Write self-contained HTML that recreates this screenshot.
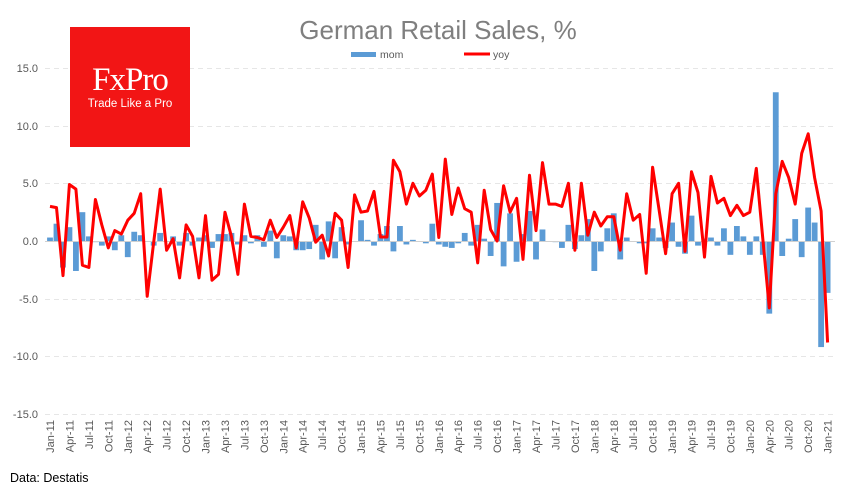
<!DOCTYPE html>
<html><head><meta charset="utf-8"><style>
body{margin:0;background:#fff;}
svg{display:block;font-family:"Liberation Sans",sans-serif;}
</style></head><body>
<svg id="s" width="858" height="497" viewBox="0 0 858 497">
<rect width="858" height="497" fill="#fff"/>
<g stroke="#e6e6e6" stroke-dasharray="5,4" stroke-width="1">
<line x1="45" x2="835" y1="68.5" y2="68.5"/><line x1="45" x2="835" y1="126.5" y2="126.5"/><line x1="45" x2="835" y1="183.5" y2="183.5"/><line x1="45" x2="835" y1="299.5" y2="299.5"/><line x1="45" x2="835" y1="356.5" y2="356.5"/><line x1="45" x2="835" y1="414.5" y2="414.5"/>
</g>
<g font-size="11" fill="#595959" text-anchor="end">
<text x="38" y="72">15.0</text><text x="38" y="130">10.0</text><text x="38" y="187">5.0</text><text x="38" y="245">0.0</text><text x="38" y="303">-5.0</text><text x="38" y="360">-10.0</text><text x="38" y="418">-15.0</text>
</g>
<g id="bars" fill="#5b9bd5"></g>
<line x1="45" x2="835" y1="241.5" y2="241.5" stroke="#d0d0d0" stroke-width="1"/>
<polyline id="yoy" fill="none" stroke="#ff0000" stroke-width="3" stroke-linejoin="round"/>
<g id="xl" font-size="11" fill="#595959" text-anchor="end">
<text transform="translate(54,420) rotate(-90)">Jan-11</text>
<text transform="translate(73.4,420) rotate(-90)">Apr-11</text>
<text transform="translate(92.9,420) rotate(-90)">Jul-11</text>
<text transform="translate(112.3,420) rotate(-90)">Oct-11</text>
<text transform="translate(131.8,420) rotate(-90)">Jan-12</text>
<text transform="translate(151.2,420) rotate(-90)">Apr-12</text>
<text transform="translate(170.6,420) rotate(-90)">Jul-12</text>
<text transform="translate(190.1,420) rotate(-90)">Oct-12</text>
<text transform="translate(209.5,420) rotate(-90)">Jan-13</text>
<text transform="translate(229,420) rotate(-90)">Apr-13</text>
<text transform="translate(248.4,420) rotate(-90)">Jul-13</text>
<text transform="translate(267.8,420) rotate(-90)">Oct-13</text>
<text transform="translate(287.3,420) rotate(-90)">Jan-14</text>
<text transform="translate(306.7,420) rotate(-90)">Apr-14</text>
<text transform="translate(326.2,420) rotate(-90)">Jul-14</text>
<text transform="translate(345.6,420) rotate(-90)">Oct-14</text>
<text transform="translate(365,420) rotate(-90)">Jan-15</text>
<text transform="translate(384.5,420) rotate(-90)">Apr-15</text>
<text transform="translate(403.9,420) rotate(-90)">Jul-15</text>
<text transform="translate(423.4,420) rotate(-90)">Oct-15</text>
<text transform="translate(442.8,420) rotate(-90)">Jan-16</text>
<text transform="translate(462.2,420) rotate(-90)">Apr-16</text>
<text transform="translate(481.7,420) rotate(-90)">Jul-16</text>
<text transform="translate(501.1,420) rotate(-90)">Oct-16</text>
<text transform="translate(520.6,420) rotate(-90)">Jan-17</text>
<text transform="translate(540,420) rotate(-90)">Apr-17</text>
<text transform="translate(559.4,420) rotate(-90)">Jul-17</text>
<text transform="translate(578.9,420) rotate(-90)">Oct-17</text>
<text transform="translate(598.3,420) rotate(-90)">Jan-18</text>
<text transform="translate(617.8,420) rotate(-90)">Apr-18</text>
<text transform="translate(637.2,420) rotate(-90)">Jul-18</text>
<text transform="translate(656.6,420) rotate(-90)">Oct-18</text>
<text transform="translate(676.1,420) rotate(-90)">Jan-19</text>
<text transform="translate(695.5,420) rotate(-90)">Apr-19</text>
<text transform="translate(715,420) rotate(-90)">Jul-19</text>
<text transform="translate(734.4,420) rotate(-90)">Oct-19</text>
<text transform="translate(753.8,420) rotate(-90)">Jan-20</text>
<text transform="translate(773.3,420) rotate(-90)">Apr-20</text>
<text transform="translate(792.7,420) rotate(-90)">Jul-20</text>
<text transform="translate(812.2,420) rotate(-90)">Oct-20</text>
<text transform="translate(831.6,420) rotate(-90)">Jan-21</text>
</g>
<text x="438" y="39" font-size="26" fill="#7f7f7f" text-anchor="middle" style="font-weight:300">German Retail Sales, %</text>
<rect x="351" y="52" width="25" height="5" fill="#5b9bd5"/>
<text x="380" y="58" font-size="10.5" fill="#595959">mom</text>
<line x1="464" x2="490" y1="54" y2="54" stroke="#ff0000" stroke-width="3"/>
<text x="493" y="58" font-size="10.5" fill="#595959">yoy</text>
<rect x="70" y="27" width="120" height="120" fill="#f21515"/>
<text x="130" y="90" font-family="Liberation Serif,serif" font-size="33" fill="#fff" text-anchor="middle" letter-spacing="-1">FxPro</text>
<text x="130" y="107" font-size="11.5" fill="#fff" text-anchor="middle">Trade Like a Pro</text>
<text x="10" y="482" font-size="12.5" fill="#000">Data: Destatis</text>
</svg>
<script>
var yoy=[3.0,2.9,-3.0,4.9,4.5,-2.1,-2.3,3.6,1.4,-0.6,0.9,0.6,1.8,2.4,4.1,-4.8,-0.1,4.5,-0.8,0.2,-3.2,1.4,0.4,-3.2,2.2,-3.4,-2.9,2.5,0.4,-2.9,3.2,0.4,0.3,0.1,1.8,0.3,1.2,2.2,-0.6,3.4,2.0,-0.1,0.5,-1.3,2.4,1.8,-2.3,4.0,2.5,2.6,4.3,0.35,0.35,7.0,6.0,3.2,5.0,3.9,4.4,5.8,0.3,7.1,2.3,4.6,2.8,2.5,-1.9,4.4,1.0,0.0,4.8,2.5,3.7,-1.6,5.7,0.9,6.8,3.2,3.2,3.0,5.0,-0.8,5.0,0.5,2.5,1.3,2.1,2.1,-0.8,4.1,1.8,2.3,-2.8,6.4,2.7,-1.1,4.1,5.0,-0.9,6.0,4.2,-1.4,5.6,3.3,3.7,2.2,3.1,2.2,2.5,6.3,0.2,-5.8,4.1,6.9,5.5,3.2,7.6,9.3,5.5,2.6,-8.8];
var mom=[0.3,1.5,-2.3,1.2,-2.6,2.5,0.4,-0.1,-0.4,0.4,-0.8,0.5,-1.4,0.8,0.5,0.0,-0.4,0.7,0.0,0.4,-0.4,0.7,-0.4,0.3,0.5,-0.6,0.6,0.6,0.7,-0.3,0.5,-0.2,0.5,-0.5,0.9,-1.5,0.5,0.4,-0.8,-0.8,-0.7,1.4,-1.6,1.7,-1.5,1.2,-0.3,0.0,1.8,0.1,-0.4,0.6,1.3,-0.9,1.3,-0.3,0.1,0.0,-0.2,1.5,-0.3,-0.5,-0.6,-0.2,0.7,-0.4,1.4,0.2,-1.3,3.3,-2.2,2.4,-1.8,0.6,2.6,-1.6,1.0,0.0,-0.1,-0.6,1.4,-0.7,0.5,1.9,-2.6,-0.9,1.1,2.4,-1.6,0.3,0.0,-0.2,-0.2,1.1,0.3,-0.6,1.6,-0.5,-1.1,2.2,-0.4,0.2,0.3,-0.4,1.1,-1.2,1.3,0.4,-1.2,0.4,-1.2,-6.3,12.9,-1.3,0.2,1.9,-1.4,2.9,1.6,-9.2,-4.5];
var ns="http://www.w3.org/2000/svg",g=document.getElementById("bars"),pts=[];
function X(i){return 50+6.48*i;}function Y(v){return 241-v*11.53;}
for(var i=0;i<121;i++){var r=document.createElementNS(ns,"rect");var v=mom[i]||0;var y0=Y(0),y1=Y(v);
r.setAttribute("x",X(i)-2.9);r.setAttribute("width",5.8);r.setAttribute("y",Math.min(y0,y1));r.setAttribute("height",Math.abs(y1-y0));g.appendChild(r);
pts.push(X(i).toFixed(1)+","+Y(yoy[i]).toFixed(1));}
document.getElementById("yoy").setAttribute("points",pts.join(" "));
</script>
</body></html>
